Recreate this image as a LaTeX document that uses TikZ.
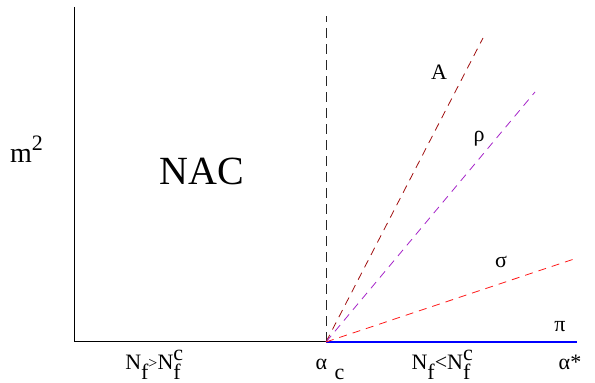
\documentclass[tikz,border=0pt]{standalone}
\usepackage{fontspec}
\setmainfont{Liberation Serif}
\definecolor{axred}{RGB}{160,15,15}
\definecolor{rhoviolet}{RGB}{165,35,200}
\definecolor{sigred}{RGB}{255,25,25}
\newcommand{\subf}{\raisebox{-0.42em}{f}}
\newcommand{\Nfc}{N\rlap{\raisebox{0.45em}{c}}\raisebox{-0.42em}{f}}
\tikzset{
    lbl/.style={anchor=base,inner sep=0pt,font=\fontsize{22}{26}\selectfont},
    ray/.style={line width=0.8pt,dash pattern=on 8pt off 6pt}
}
\begin{document}
\begin{tikzpicture}[x=1pt,y=1pt]
    \useasboundingbox (0,0) rectangle (595,383);
    \coordinate (O) at (74,41);
    \coordinate (ytop) at (74,376);
    \coordinate (crit) at (326,41);
    \coordinate (vtop) at (326,367);
    \coordinate (xend) at (577,41);
    % axes
    \draw[line width=1pt] (ytop)--(O)--(crit);
    \draw[blue,line width=1.2pt] (crit)--(xend);
    \draw[line width=0.9pt,gray!30!black,dash pattern=on 10pt off 6pt] (crit)--(vtop);
    % mass lines
    \foreach \nm/\col/\xe/\ye in {
        aone/axred/483/345,
        rho/rhoviolet/535/291,
        sig/sigred/577/125}{
        \coordinate (\nm) at (\xe,\ye);
        \draw[ray,\col] (crit)--(\nm);
    }
    \node[lbl] (labA) at (439,303) {A};
    \node[lbl] (labrho) at (479,241) {ρ};
    \node[lbl] (labsig) at (501,115) {σ};
    \node[lbl] (labpi) at (560,51) {π};
    \node[lbl,anchor=base west,font=\fontsize{28}{32}\selectfont] (m2) at (10,220) {m\raisebox{0.45em}{\fontsize{22}{26}\selectfont 2}};
    \node[lbl,font=\fontsize{40}{46}\selectfont] (nac) at (202,198) {NAC};
    % bottom labels
    \node[lbl] (big) at (153,13) {N\subf\raisebox{0.05em}{\fontsize{16}{18}\selectfont >}\Nfc};
    \node[lbl] (alc) at (330,13) {α\,\,\raisebox{-0.42em}{c}};
    \node[lbl] (small) at (441,13) {N\subf<\Nfc};
    \node[lbl] (alstar) at (570,13) {α*};
\end{tikzpicture}
\end{document}
